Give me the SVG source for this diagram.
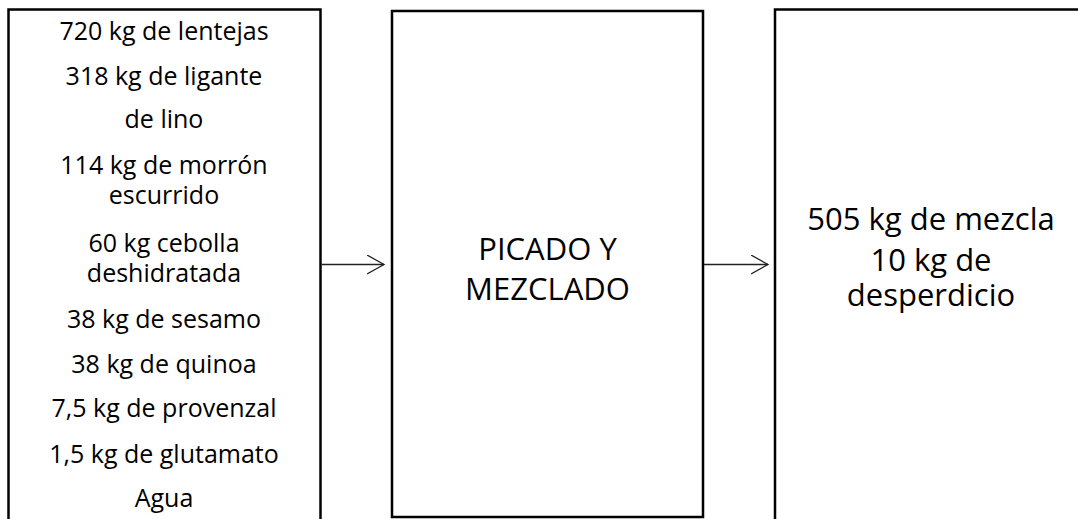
<svg xmlns="http://www.w3.org/2000/svg" width="1078" height="519" viewBox="0 0 1078 519">
<style>
.box{fill:#fff;stroke:#000;stroke-width:2.5}
.t{font-family:"Open Sans","Noto Sans","Liberation Sans",sans-serif;fill:#000;text-anchor:middle}
.s{font-size:25px}
.l{font-size:31px}
.c{fill:none;stroke:#222;stroke-width:1.3}
</style>
<defs>
<marker id="ah" markerUnits="userSpaceOnUse" markerWidth="20" markerHeight="22" refX="17" refY="10" orient="auto" viewBox="0 0 20 22">
<path d="M0,0.5 L17,10 L0,19.5" fill="none" stroke="#222" stroke-width="1.3"/>
</marker>
</defs>
<rect width="1078" height="519" fill="#fff"/>
<g id="inputs">
<rect class="box" x="8.5" y="9.5" width="312" height="530"/>
<g class="t s">
<text x="164" y="40">720 kg de lentejas</text>
<text x="164" y="85">318 kg de ligante</text>
<text x="164" y="128">de lino</text>
<text x="164" y="174">114 kg de morrón</text>
<text x="164" y="204">escurrido</text>
<text x="164" y="252">60 kg cebolla</text>
<text x="164" y="282">deshidratada</text>
<text x="164" y="328">38 kg de sesamo</text>
<text x="164" y="373">38 kg de quinoa</text>
<text x="164" y="417">7,5 kg de provenzal</text>
<text x="164" y="463">1,5 kg de glutamato</text>
<text x="164" y="507">Agua</text>
</g>
</g>
<g id="process">
<rect class="box" x="392" y="11" width="311" height="506"/>
<g class="t l">
<text x="547.5" y="260">PICADO Y</text>
<text x="547.5" y="300">MEZCLADO</text>
</g>
</g>
<g id="outputs">
<rect class="box" x="775" y="9.5" width="330" height="530"/>
<g class="t l">
<text x="931" y="230">505 kg de mezcla</text>
<text x="931" y="271">10 kg de</text>
<text x="931" y="306">desperdicio</text>
</g>
</g>
<g id="connectors">
<line class="c" x1="321.5" y1="264.5" x2="384" y2="264.5" marker-end="url(#ah)"/>
<line class="c" x1="704" y1="264.5" x2="768" y2="264.5" marker-end="url(#ah)"/>
</g>
</svg>
